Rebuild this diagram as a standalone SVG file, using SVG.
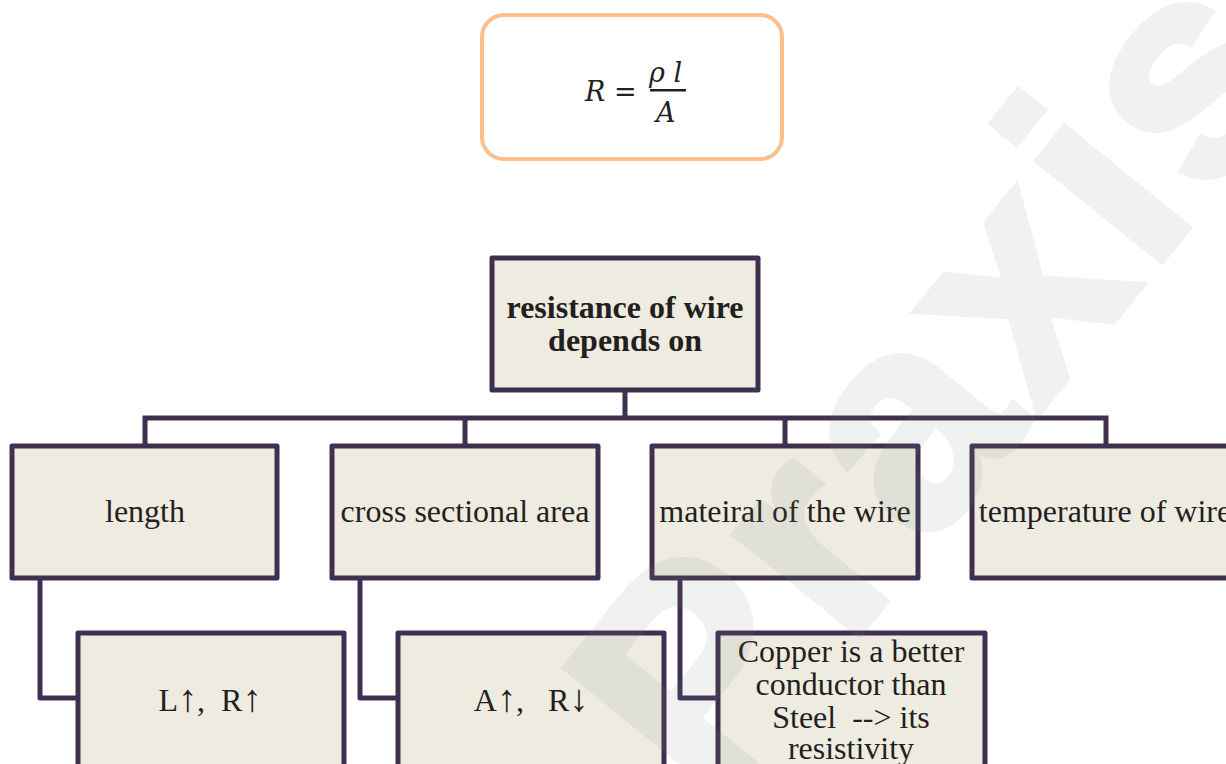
<svg xmlns="http://www.w3.org/2000/svg" width="1226" height="764" viewBox="0 0 1226 764">
<style>
.node{fill:#EEEBE0;stroke:#3F3050;stroke-width:5;stroke-linejoin:round}
.t{font-family:"Liberation Serif","Times New Roman",serif;font-size:32px;fill:#231F20;text-anchor:middle}
.b{font-weight:bold;font-size:32px}
.ar{font-size:38px}
.c{fill:none;stroke:#3F3050;stroke-width:5;stroke-linejoin:round;stroke-linecap:square}
.m{font-family:"DejaVu Serif","Liberation Serif",serif;font-style:italic;font-size:27px;fill:#231F20}
.wm{font-family:"Liberation Sans",Arial,sans-serif;font-weight:bold;font-size:300px;letter-spacing:10px;fill:#7a8a84;stroke:#7a8a84;stroke-width:8;stroke-linejoin:miter}
</style>
<rect width="1226" height="764" fill="#FFFFFF"/>
<g id="formula">
<rect x="482" y="15" width="300" height="144" rx="22" ry="22" fill="#FFFFFF" stroke="#FBC08C" stroke-width="4"/>
<text class="m" x="585" y="101">R</text>
<text class="m" x="614" y="101" style="font-style:normal">=</text>
<text class="m" x="649" y="82">ρ l</text>
<rect x="650" y="89" width="36" height="2.5" fill="#231F20"/>
<text class="m" x="656" y="122">A</text>
</g>
<g id="connectors">
<path class="c" d="M625,390 V418 M145,418 H1106 M145,418 V446 M465,418 V446 M785,418 V446 M1106,418 V446"/>
<path class="c" d="M40,578 V698 H78 M360,578 V698 H398 M680,578 V698 H718"/>
</g>
<g id="root">
<rect class="node" x="492" y="258" width="266" height="132"/>
<text class="t b" x="625" y="318">resistance of wire</text>
<text class="t b" x="625" y="351">depends on</text>
</g>
<g id="length">
<rect class="node" x="12" y="446" width="265" height="132"/>
<text class="t" x="145" y="522">length</text>
</g>
<g id="area">
<rect class="node" x="332" y="446" width="266" height="132"/>
<text class="t" x="465" y="522">cross sectional area</text>
</g>
<g id="material">
<rect class="node" x="652" y="446" width="266" height="132"/>
<text class="t" x="785" y="522">mateiral of the wire</text>
</g>
<g id="temperature">
<rect class="node" x="972" y="446" width="266" height="132"/>
<text class="t" x="1105" y="522">temperature of wire</text>
</g>
<g id="length-child">
<rect class="node" x="78" y="633" width="266" height="140"/>
<text class="t" x="210" y="711" xml:space="preserve">L<tspan class="ar">↑</tspan>,  R<tspan class="ar">↑</tspan></text>
</g>
<g id="area-child">
<rect class="node" x="398" y="633" width="266" height="140"/>
<text class="t" x="531" y="711" xml:space="preserve">A<tspan class="ar">↑</tspan>,   R<tspan class="ar">↓</tspan></text>
</g>
<g id="material-child">
<rect class="node" x="718" y="633" width="267" height="140"/>
<text class="t" x="851" y="662">Copper is a better</text>
<text class="t" x="851" y="695">conductor than</text>
<text class="t" x="851" y="728" xml:space="preserve">Steel  --&gt; its</text>
<text class="t" x="851" y="759">resistivity</text>
</g>
<g opacity="0.1">
<text class="wm" transform="translate(714,813) rotate(-51)">Praxis</text>
</g>
</svg>
